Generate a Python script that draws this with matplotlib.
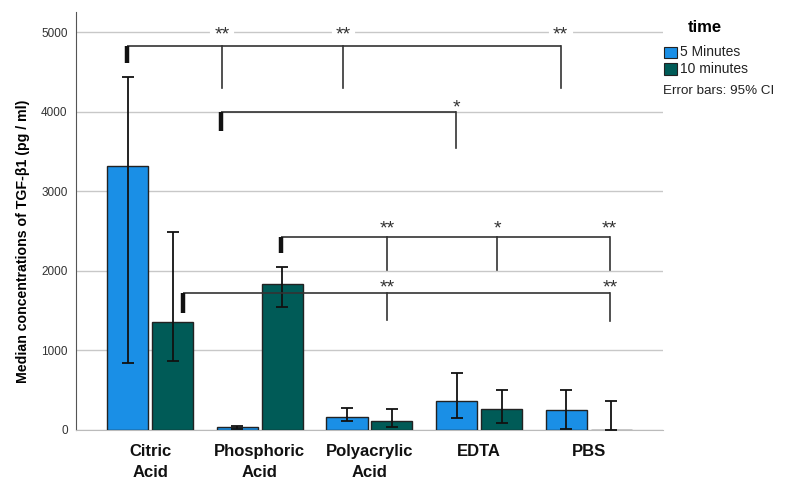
import matplotlib.pyplot as plt
from matplotlib.patches import Rectangle
import numpy as np

plt.rcParams['font.family'] = ['Liberation Sans', 'DejaVu Sans']

# Data
groups = ['Citric\nAcid', 'Phosphoric\nAcid', 'Polyacrylic\nAcid', 'EDTA', 'PBS']
series = ['5 Minutes', '10 minutes']
median_5 = [3324, 35, 163, 369, 252]
median_10 = [1362, 1836, 113, 264, 5]
ci_low_5 = [847, 15, 113, 155, 13]
ci_high_5 = [4445, 55, 277, 721, 499]
ci_low_10 = [864, 1547, 38, 88, 0]
ci_high_10 = [2494, 2046, 264, 499, 365]

colors = ['#1a8fe6', '#005b57']

fig = plt.figure(figsize=(7.89, 4.79), dpi=100)
ax = fig.add_axes([0.0963, 0.1023, 0.744, 0.8727])

x = np.arange(len(groups))
width = 0.374
off = 0.205

for i, (vals, lo, hi) in enumerate([(median_5, ci_low_5, ci_high_5),
                                     (median_10, ci_low_10, ci_high_10)]):
    xs = x + (i * 2 - 1) * off
    ax.bar(xs, vals, width, color=colors[i], edgecolor='#222222', linewidth=1.0, zorder=3)
    vals = np.array(vals)
    yerr = [vals - np.array(lo), np.array(hi) - vals]
    ax.errorbar(xs, vals, yerr=yerr, fmt='none', ecolor='#111111', elinewidth=1.3,
                capsize=4.2, capthick=1.3, zorder=4)

ax.set_xlim(-0.676, 4.676)
ax.set_ylim(0, 5258)
ax.set_yticks([0, 1000, 2000, 3000, 4000, 5000])
ax.yaxis.grid(True, color='#c8c8c8', linewidth=1.0, zorder=0)
ax.set_axisbelow(True)
ax.set_xticks(x)
ax.set_xticklabels(groups, fontsize=12, fontweight='bold', color='#111111',
                   linespacing=1.55)
ax.tick_params(axis='x', length=0, pad=10)
ax.tick_params(axis='y', length=0, labelsize=8.5, colors='#333333', pad=6)
for s in ['top', 'right']:
    ax.spines[s].set_visible(False)
ax.spines['left'].set_color('#555555')
ax.spines['bottom'].set_color('#bbbbbb')
ax.set_ylabel('Median concentrations of TGF-β1 (pg / ml)', fontsize=10.2,
              fontweight='bold')
ax.yaxis.set_label_coords(-0.078, 0.452)

# Significance brackets: (start x, start tick bottom, line y, drops [(x, bottom, label)], star baseline y)
line_c = '#333333'
brackets = [
    (-0.21, 4610, 4830, [(0.657, 4300, '**'), (1.763, 4300, '**'), (3.744, 4300, '**')], 4915),
    (0.646, 3755, 4000, [(2.79, 3550, '*')], 4000),
    (1.196, 2230, 2431, [(2.16, 2012, '**'), (3.166, 2012, '*'), (4.19, 2012, '**')], 2478),
    (0.299, 1475, 1719, [(2.16, 1384, '**'), (4.195, 1375, '**')], 1736),
]
for k, (x0, tick_bot, yl, drops, ystar) in enumerate(brackets):
    x1 = max(d[0] for d in drops)
    ax.plot([x0, x1], [yl, yl], color=line_c, lw=1.2, zorder=5, solid_capstyle='butt')
    ax.plot([x0, x0], [tick_bot, yl], color='#111111', lw=3.2, zorder=5, solid_capstyle='butt')
    for xd, yb, lab in drops:
        ax.plot([xd, xd], [yb, yl], color=line_c, lw=1.2, zorder=5)
        if k == 0:
            # gap in the 5000 gridline behind the stars
            ax.plot([xd - 0.09, xd + 0.09], [5000, 5000], color='white', lw=3, zorder=1)
        ax.text(xd, ystar, lab, ha='center', va='baseline', fontsize=14, color='#333333',
                zorder=6)

# Legend
fig.text(0.893, 0.942, 'time', ha='center', va='center', fontsize=12, fontweight='bold')
for i, lab in enumerate(series):
    yc = 1 - (52.5 + 16.5 * i) / 479
    fig.patches.append(Rectangle((664 / 789, yc - 5.5 / 479), 13 / 789, 11 / 479,
                                 transform=fig.transFigure, facecolor=colors[i],
                                 edgecolor='#222222', linewidth=0.8))
    fig.text(680 / 789, yc, lab, ha='left', va='center', fontsize=10, color='#222222')
fig.text(663 / 789, 1 - 91 / 479, 'Error bars: 95% CI', ha='left', va='center',
         fontsize=9.6, color='#222222')

fig.savefig('out.png', dpi=100)
